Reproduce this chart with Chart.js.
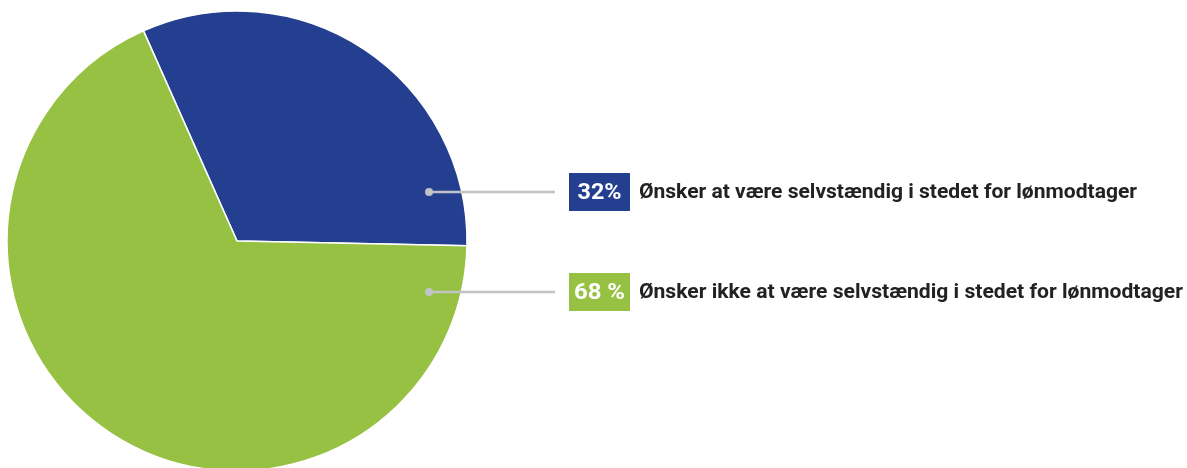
<!DOCTYPE html>
<html>
<head>
<meta charset="utf-8">
<script src="https://cdn.jsdelivr.net/npm/chart.js@4"></script>
<style>
html,body{margin:0;padding:0;background:#fff;overflow:hidden;}
canvas{display:block;}
</style>
</head>
<body>
<canvas id="c" width="1187" height="468"></canvas>
<script>
const categories = ["Ønsker at være selvstændig i stedet for lønmodtager", "Ønsker ikke at være selvstændig i stedet for lønmodtager"];
const values = [32, 68];
const percentLabels = ["32%", "68 %"];
const colors = ["#243f8f", "#96c143"];

const labelPlugin = {
  id: 'leaderLabels',
  afterDatasetsDraw(chart) {
    const ctx = chart.ctx;
    const arc = chart.getDatasetMeta(0).data[0];
    const cx = arc.x, cy = arc.y, r = arc.outerRadius;
    const offsets = [-49, 51];
    ctx.save();
    categories.forEach((cat, i) => {
      const y = cy + offsets[i];
      const dotX = cx + r * 0.835;
      const lineEnd = 555;
      ctx.strokeStyle = '#c2c3c6';
      ctx.lineWidth = 2.5;
      ctx.beginPath();
      ctx.moveTo(dotX, y);
      ctx.lineTo(lineEnd, y);
      ctx.stroke();
      ctx.fillStyle = '#c2c3c6';
      ctx.beginPath();
      ctx.arc(dotX, y, 4, 0, Math.PI * 2);
      ctx.fill();
      const bx = 569, bw = 61, bh = 38;
      ctx.fillStyle = colors[i];
      ctx.fillRect(bx, y - 19, bw, bh);
      ctx.fillStyle = '#ffffff';
      ctx.font = 'bold 22px "Roboto", sans-serif';
      ctx.textBaseline = 'middle';
      ctx.textAlign = 'center';
      const pw = ctx.measureText(percentLabels[i]).width;
      const ptarget = i === 0 ? 44 : 51;
      ctx.save();
      ctx.translate(bx + bw / 2, y + 1);
      ctx.scale(ptarget / pw, 1);
      ctx.fillText(percentLabels[i], 0, 0);
      ctx.restore();
      ctx.fillStyle = '#222222';
      ctx.font = 'bold 20px "Roboto", sans-serif';
      ctx.textAlign = 'left';
      const tw = ctx.measureText(cat).width;
      const target = i === 0 ? 498 : 544;
      ctx.save();
      ctx.translate(639, y + 1);
      ctx.scale(target / tw, 1);
      ctx.fillText(cat, 0, 0);
      ctx.restore();
    });
    ctx.restore();
  }
};

new Chart(document.getElementById('c'), {
  type: 'pie',
  data: {
    labels: categories,
    datasets: [{
      data: values,
      backgroundColor: colors,
      borderColor: '#ffffff',
      borderWidth: 1.5,
      hoverOffset: 0
    }]
  },
  options: {
    responsive: false,
    animation: false,
    rotation: -24,
    radius: 230,
    layout: { padding: { left: 0, right: 713, top: 14, bottom: 0 } },
    plugins: {
      legend: { display: false },
      tooltip: { enabled: false }
    },
    events: []
  },
  plugins: [labelPlugin]
});
</script>
</body>
</html>
